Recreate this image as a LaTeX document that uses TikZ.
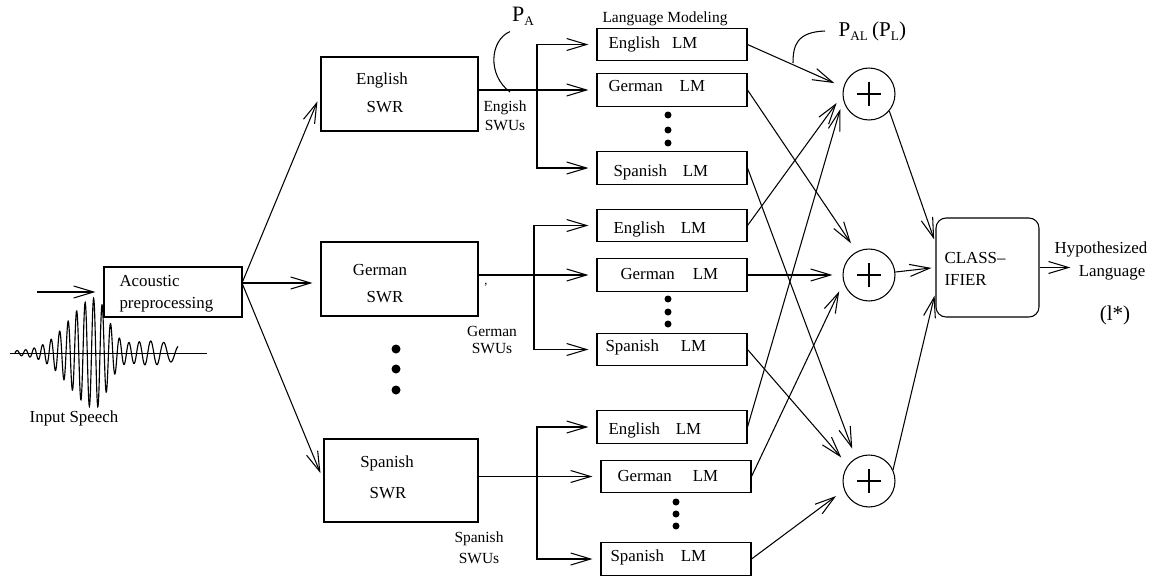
\documentclass[tikz,border=0pt]{standalone}
\usepackage{fontspec}
\setmainfont{Liberation Serif}
\usetikzlibrary{arrows.meta}
\newcommand{\sbs}[1]{\raisebox{-2.3pt}{\fontsize{7.5}{8}\selectfont #1}}
\newcommand{\lmlab}[2]{#1\hspace{#2}LM}

\begin{document}
\begin{tikzpicture}[x=0.02cm,y=-0.02cm,line width=0.6pt,
  every node/.style={font=\fontsize{9.6}{11}\selectfont},
  box/.style={draw,minimum width=3.14cm,minimum height=1.48cm,inner sep=0},
  lm/.style={draw,minimum width=3cm,minimum height=0.65cm,inner sep=0},
  adder/.style={draw,circle,minimum size=1.04cm,inner sep=0},
  lab/.style={inner sep=0,anchor=west},
  swu/.style={align=center,inner sep=0,font=\fontsize{8.8}{11}\selectfont},
  arr/.style={-{Straight Barb[length=0.4cm,width=0.24cm]},shorten >=0.16cm},
  sarr/.style={-{Straight Barb[length=0.4cm,width=0.24cm]},shorten >=0.2cm},
  declare function={sg(\t)=ifthenelse(\t<95,36,18);
    env(\t)=52*exp(0-((\t-95)/sg(\t))*((\t-95)/sg(\t)))+10*exp(0-((\t-150)/35)*((\t-150)/35))+2;
    ph(\t)=360*((\t-15)/8.5-max(0,\t-110)*max(0,\t-110)/2312);}]
\useasboundingbox (0,0) rectangle (1160,578);

% input speech
\draw[line width=0.5pt] (10,353) -- (207,353);
\draw[line width=0.65pt] plot[domain=15:178,samples=700] (\x,{353-env(\x)*sin(ph(\x))});
\node (speech) at (74,418) {Input Speech};
\coordinate (in) at (37,292);

% acoustic front end
\node[draw,minimum width=2.76cm,minimum height=1cm,inner sep=0] (acou) at (173,292) {};
\node[lab,align=left,font=\fontsize{9.6}{12.5}\selectfont] (acoutext) at (119,294) {Acoustic\\preprocessing};
\coordinate (ac) at (242,283);

% phone recognizers
\node[box] (eswr) at (399.5,94) {};
\node (eswrt) at (382,80) {English};
\node (eswrs) at (385,107) {SWR};
\node[box] (gswr) at (399.5,279) {};
\node (gswrt) at (380,270) {German};
\node (gswrs) at (385,297) {SWR};
\node[box,minimum width=3.08cm,minimum height=1.66cm] (sswr) at (401,480.5) {};
\node (sswrt) at (387,463) {Spanish};
\node (sswrs) at (388,493) {SWR};
\foreach \y in {349,369,390} \fill (396,\y) circle[radius=0.09cm];

\node[swu] (eswu) at (505,116) {Engish\\SWUs};
\node[swu,font=\fontsize{8.8}{9.3}\selectfont] (gswu) at (492,340) {German\\SWUs};
\node[swu,font=\fontsize{8.8}{12}\selectfont] (sswu) at (479,547.5) {Spanish\\SWUs};
\node[inner sep=0,font=\scriptsize] (gmark) at (486,285) {,};

% language models
\node[font=\fontsize{8.8}{10}\selectfont] (lmhead) at (665,19) {Language Modeling};
\node[lm] (e1) at (672,44.5) {};
\node[lm] (e2) at (672,90) {};
\node[lm] (e3) at (672,168) {};
\node[lm] (g1) at (672,225.5) {};
\node[lm] (g2) at (672,275) {};
\node[lm] (g3) at (672,349.5) {};
\node[lm] (s1) at (672,427) {};
\node[lm] (s2) at (676,476.5) {};
\node[lm] (s3) at (676,559) {};
\node[lab] (e1t) at (608,44) {\lmlab{English}{6.8pt}};
\node[lab] (e2t) at (608,86) {\lmlab{German}{9.6pt}};
\node[lab] (e3t) at (613,172) {\lmlab{Spanish}{9pt}};
\node[lab] (g1t) at (613,229) {\lmlab{English}{9pt}};
\node[lab] (g2t) at (620,274) {\lmlab{German}{10.2pt}};
\node[lab] (g3t) at (605,347) {\lmlab{Spanish}{12.5pt}};
\node[lab] (s1t) at (608,430) {\lmlab{English}{9pt}};
\node[lab] (s2t) at (617,476) {\lmlab{German}{12pt}};
\node[lab] (s3t) at (610,557) {\lmlab{Spanish}{9.6pt}};
\foreach \y in {115,130,143} \fill (668,\y) circle[radius=0.07cm];
\foreach \y in {299,312,324} \fill (668,\y) circle[radius=0.07cm];
\foreach \y in {502,514,526} \fill (676,\y) circle[radius=0.07cm];

% score combination
\node[adder] (ptop) at (869,94) {};
\node[adder] (pmid) at (869,275) {};
\node[adder] (pbot) at (869,481) {};
\foreach \p in {ptop,pmid,pbot} {
  \draw ([xshift=-0.24cm]\p.center) -- ([xshift=0.24cm]\p.center);
  \draw ([yshift=-0.24cm]\p.center) -- ([yshift=0.24cm]\p.center);
}
\node[draw,rounded corners=0.2cm,minimum width=2.06cm,minimum height=1.98cm,inner sep=0] (cls) at (987.5,267.5) {};
\node[lab,align=left,font=\fontsize{9.6}{12.5}\selectfont] (clstext) at (944,269) {CLASS--\\IFIER};
\node (hyp) at (1101,249) {Hypothesized};
\node (lang) at (1112,273) {Language};
\node[font=\fontsize{12}{14}\selectfont] (lstar) at (1115,315) {(l*)};

\node[font=\fontsize{12.5}{14}\selectfont] (pa) at (523,16) {P\sbs{A}};
\node[lab,font=\fontsize{12}{14}\selectfont] (pal) at (838,31) {P\sbs{AL}\hspace{2.5pt}(P\sbs{L})};

% connections
\draw[arr] (in) -- (acou);
\draw[arr] (ac) -- (eswr.west);
\draw[arr] (ac) -- (ac -| gswr.west);
\draw[arr] (ac) -- (sswr.west);

\coordinate (eb) at (537,90);
\draw[arr] (eswr.east |- e2.west) -- (e2.west);
\draw[arr] (eb) |- (e1.west);
\draw[arr] (eb) |- (e3.west);
\coordinate (gb) at (534,275);
\draw[arr] (gswr.east |- g2.west) -- (g2.west);
\draw[arr] (gb) |- (g1.west);
\draw[arr] (gb) |- (g3.west);
\coordinate (sb) at (537,476.5);
\draw[arr] (sswr.east |- s2.west) -- (s2.west);
\draw[arr] (sb) |- (s1.west);
\draw[arr] (sb) |- (s3.west);

\draw[sarr] (e1.east) -- (ptop.165);
\draw[sarr] (e2.east) -- (pmid.118);
\draw[sarr] (e3.east) -- (pbot.120);
\draw[sarr] (g1.east) -- (ptop.182);
\draw[sarr] (g2.east) -- (pmid.180);
\draw[sarr] (g3.east) -- (pbot.143);
\draw[sarr] (s1.east) -- (ptop.192);
\draw[sarr] (s2.east) -- (pmid.196);
\draw[sarr] (s3.east) -- (pbot.200);

\draw[arr,shorten >=0.08cm] (ptop.-40) -- (cls.155);
\draw[arr,shorten >=0.08cm] (pmid) -- (cls.west);
\draw[arr,shorten >=0.08cm] (pbot.25) -- (cls.205);
\draw[arr,shorten >=0.04cm] (cls.east) -- (cls.east -| lang.west);

\draw ([xshift=-0.26cm]pa.south) .. controls (490,40) and (487,75) .. (510,92);
\draw ([xshift=-0.26cm]pal.west) .. controls (797,32) and (793,45) .. (793,63);
\end{tikzpicture}
\end{document}
